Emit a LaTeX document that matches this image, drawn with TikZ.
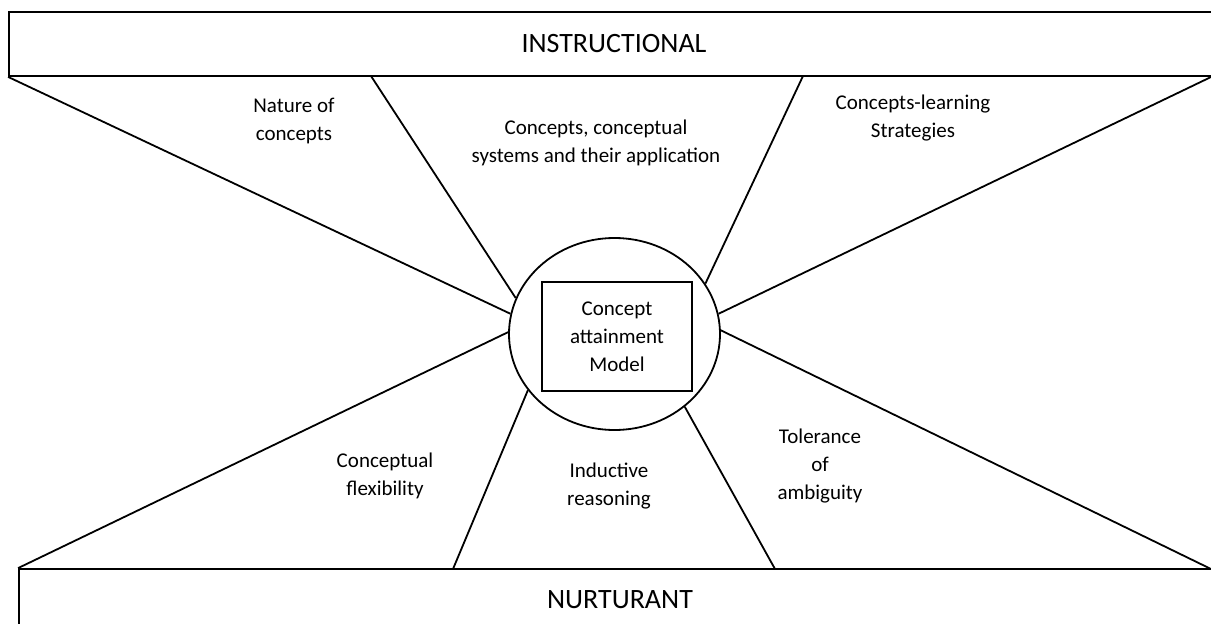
\documentclass[tikz,border=0pt]{standalone}
\usepackage{fontspec}
\setmainfont{Carlito}
\usetikzlibrary{shapes.geometric, positioning}

\tikzset{
  band/.style={draw, rectangle, line width=1.8pt, inner sep=0pt, font=\fontsize{28}{32}\selectfont},
  hub/.style={draw, ellipse, line width=1.8pt, minimum width=211pt, minimum height=192pt, inner sep=0pt},
  core/.style={draw, rectangle, line width=1.8pt, minimum width=150pt, minimum height=109pt, align=center, font=\fontsize{21}{28}\selectfont},
  theme/.style={align=center, font=\fontsize{21}{28}\selectfont},
  spoke/.style={line width=1.8pt}
}

\begin{document}
\begin{tikzpicture}[x=1pt, y=-1pt]
\useasboundingbox (0,0) rectangle (1211,624);
\clip (0,0) rectangle (1211,624);

% the two bands
\node[band, minimum width=1210pt, minimum height=64pt] (instr) at (614,44) {INSTRUCTIONAL};
\node[band, minimum width=1202pt, minimum height=62pt] (nurt) at (620,600) {NURTURANT};

% the model in the middle
\node[hub] (hub) at (614.5,334) {};
\node[core] (model) at (617,336.5) {Concept\\attainment\\Model};

% free ends of the spokes
\coordinate (t2) at (371,76);
\coordinate (t3) at (803,76);
\coordinate (t4) at (1211,77);
\coordinate (b2) at (453,569);
\coordinate (b3) at (775,569);
\coordinate (b4) at (1211,569);

% instructional side
\draw[spoke] (instr.south west) -- (hub.169);
\draw[spoke] (t2) -- (hub.160);
\draw[spoke] (t3) -- (hub.29);
\draw[spoke] (t4) -- (hub.11);

% nurturant side
\draw[spoke] (nurt.north west) -- (hub.179);
\draw[spoke] (b2) -- (hub.213);
\draw[spoke] (b3) -- (hub.314);
\draw[spoke] (b4) -- (hub.2);

% themes
\node[theme] (nature) at (294,121) {Nature of\\concepts};
\node[theme] (systems) at (596,143) {Concepts, conceptual\\systems and their application};
\node[theme] (strategies) at (913,118) {Concepts-learning\\Strategies};
\node[theme] (flexibility) at (385,476) {Conceptual\\flexibility};
\node[theme] (inductive) at (609,486) {Inductive\\reasoning};
\node[theme] (tolerance) at (820,466) {Tolerance\\of\\ambiguity};
\end{tikzpicture}
\end{document}
